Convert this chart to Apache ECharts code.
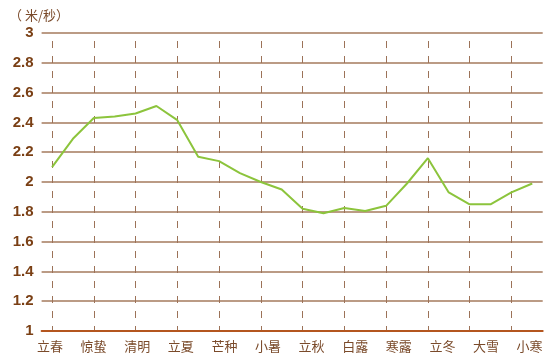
<!DOCTYPE html>
<html><head><meta charset="utf-8">
<script src="https://cdn.jsdelivr.net/npm/echarts@6/dist/echarts.min.js"></script>
<style>html,body{margin:0;padding:0;background:#fff}#c{width:554px;height:363px}</style>
</head><body><div id="c"></div>
<script>
const terms = ['立春','雨水','惊蛰','春分','清明','谷雨','立夏','小满','芒种','夏至','小暑','大暑','立秋','处暑','白露','秋分','寒露','霜降','立冬','小雪','大雪','冬至','小寒','大寒'];
const windSpeed = [2.10,2.29,2.43,2.44,2.46,2.51,2.415,2.17,2.14,2.06,2.00,1.95,1.82,1.79,1.825,1.805,1.84,1.99,2.16,1.93,1.85,1.85,1.93,1.99];
const shownLabels = ['立春','惊蛰','清明','立夏','芒种','小暑','立秋','白露','寒露','立冬','大雪','小寒'];
const yTicks = {min:1, max:3, interval:0.2};
const unitText = '（ 米/秒）';

const brown = '#7a3f14';
const chart = echarts.init(document.getElementById('c'));
chart.setOption({
  animation:false,
  title:{text:unitText,left:4,top:4,textStyle:{fontSize:13,fontWeight:'normal',color:'#7a4a2a',fontFamily:'Noto Sans CJK SC'}},
  grid:[
    {left:41.6,right:11.3,top:33,bottom:32},
    {left:50,right:24.4,top:33,bottom:32}
  ],
  xAxis:[
    {type:'category',gridIndex:0,data:terms,boundaryGap:true,
     axisLine:{lineStyle:{color:'#b4561f',width:2}},
     axisTick:{inside:true,length:4,lineStyle:{color:'#b4561f',width:1.5}},
     axisLabel:{show:false},
     splitLine:{show:true,alignWithLabel:true,lineStyle:{color:'#9c7258',width:1,type:[7,8],dashOffset:7}}},
    {type:'category',gridIndex:1,data:shownLabels,boundaryGap:false,
     axisLine:{show:false},axisTick:{show:false},
     axisLabel:{margin:9,fontSize:13,color:'#7a4a2a',fontFamily:'Noto Sans CJK SC'},
     splitLine:{show:false}}
  ],
  yAxis:[
    {type:'value',gridIndex:0,min:yTicks.min,max:yTicks.max,interval:yTicks.interval,
     axisLine:{show:false},axisTick:{show:false},
     axisLabel:{margin:8,fontSize:15,fontWeight:'bold',color:brown,fontFamily:'Liberation Sans',
       formatter:v=>String(Math.round(v*10)/10)},
     splitLine:{show:true,lineStyle:{color:'#a57a5c',width:1.5}}},
    {type:'value',gridIndex:1,show:false,min:0,max:1}
  ],
  series:[{
    type:'line',xAxisIndex:0,yAxisIndex:0,data:windSpeed,symbol:'none',
    lineStyle:{color:'#8cc43c',width:2},z:5
  }]
});
</script></body></html>
